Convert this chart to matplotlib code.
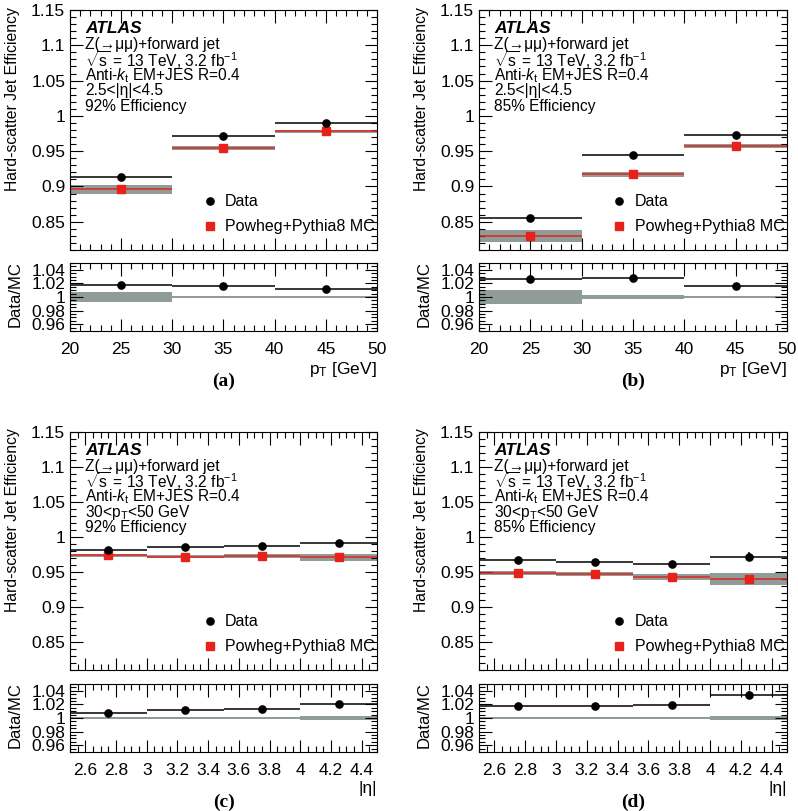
import numpy as np
import matplotlib
matplotlib.use('Agg')
from matplotlib import pyplot as plt
from matplotlib.ticker import MultipleLocator

plt.rcParams['font.family'] = ['Liberation Sans', 'DejaVu Sans']
plt.rcParams['mathtext.fontset'] = 'custom'
plt.rcParams['mathtext.rm'] = 'Liberation Sans'
plt.rcParams['mathtext.it'] = 'Liberation Sans:italic'

# binning
pt_edges = [20, 30, 40, 50]
eta_edges = [2.5, 3.0, 3.5, 4.0, 4.5]

# (a) pT, 92% WP
a_data = [0.913, 0.971, 0.990]
a_data_err = [0.001, 0.001, 0.001]
a_mc = [0.896, 0.955, 0.978]
a_mc_err = [0.006, 0.003, 0.002]
a_ratio = [1.017, 1.016, 1.012]
a_ratio_err = [0.001, 0.001, 0.001]
a_ratio_band = [0.007, 0.002, 0.0015]

# (b) pT, 85% WP
b_data = [0.856, 0.944, 0.973]
b_data_err = [0.001, 0.001, 0.001]
b_mc = [0.830, 0.917, 0.957]
b_mc_err = [0.0085, 0.003, 0.003]
b_ratio = [1.026, 1.028, 1.016]
b_ratio_err = [0.001, 0.001, 0.001]
b_ratio_band = [0.010, 0.003, 0.002]

# (c) |eta|, 92% WP
c_data = [0.982, 0.985, 0.987, 0.991]
c_data_err = [0.001, 0.001, 0.0015, 0.003]
c_mc = [0.974, 0.972, 0.973, 0.971]
c_mc_err = [0.002, 0.002, 0.003, 0.005]
c_ratio = [1.007, 1.012, 1.013, 1.020]
c_ratio_err = [0.001, 0.001, 0.0015, 0.003]
c_ratio_band = [0.002, 0.0015, 0.002, 0.003]

# (d) |eta|, 85% WP
d_data = [0.967, 0.964, 0.962, 0.972]
d_data_err = [0.001, 0.001, 0.003, 0.006]
d_mc = [0.949, 0.947, 0.943, 0.940]
d_mc_err = [0.003, 0.003, 0.004, 0.008]
d_ratio = [1.018, 1.018, 1.0195, 1.034]
d_ratio_err = [0.001, 0.001, 0.003, 0.005]
d_ratio_band = [0.002, 0.001, 0.001, 0.003]

BAND = '#8f9c98'
MS = 5.2

fig = plt.figure(figsize=(7.98, 8.11), dpi=100)
W, H = 798.0, 811.0


def box(l, t, r, b):
    return [l / W, 1 - b / H, (r - l) / W, (b - t) / H]


def style(ax, xmaj, xmin, ymaj, ymin):
    ax.xaxis.set_major_locator(MultipleLocator(xmaj))
    ax.xaxis.set_minor_locator(MultipleLocator(xmin))
    ax.yaxis.set_major_locator(MultipleLocator(ymaj))
    ax.yaxis.set_minor_locator(MultipleLocator(ymin))
    ax.tick_params(which='both', direction='in', top=True, right=True, labelsize=12.5, width=0.8)
    ax.tick_params(which='major', length=9)
    ax.tick_params(which='minor', length=4.5)
    for s in ax.spines.values():
        s.set_linewidth(0.8)


def fmt(v, pos):
    s = ('%.3f' % v).rstrip('0').rstrip('.')
    return s


def panel(left, right, top_main, bot_main, top_r, bot_r, edges, data, derr, mc, mcerr,
          ratio, rerr, rband, var_line, wp, xlabel, tag, eta):
    edges = np.array(edges)
    lo, hi = edges[:-1], edges[1:]
    cen = 0.5 * (lo + hi)
    hw = 0.5 * (hi - lo)
    ax = fig.add_axes(box(left, top_main, right, bot_main))
    for i in range(len(cen)):
        ax.fill_between([lo[i], hi[i]], mc[i] - mcerr[i], mc[i] + mcerr[i], color=BAND, lw=0, zorder=1)
    ax.hlines(mc, lo, hi, color='#e3241b', lw=1.1, zorder=2)
    ax.plot(cen, mc, 's', color='#e8221b', ms=MS, zorder=3)
    ax.errorbar(cen, data, xerr=hw, yerr=derr, fmt='o', color='black', ms=MS, elinewidth=1.1, capsize=0, zorder=4)
    ax.set_xlim(edges[0], edges[-1])
    ax.set_ylim(0.81, 1.15)
    if eta:
        style(ax, 0.2, 0.05, 0.05, 0.01)
    else:
        style(ax, 5, 1, 0.05, 0.01)
    ax.set_xticklabels([])
    ax.yaxis.set_major_formatter(fmt)
    ax.set_ylabel('Hard-scatter Jet Efficiency', fontsize=11.3)
    ax.yaxis.set_label_coords(-0.163, 0.63)

    x0, y0, dy = 0.05, 0.921, 0.0645
    ax.text(x0, y0, 'ATLAS', transform=ax.transAxes, fontsize=12.5, fontweight='bold', fontstyle='italic', va='center')
    lines = ['Z(→μμ)+forward jet',
             r'$\sqrt{\mathregular{s}}$ = 13 TeV, 3.2 fb$^{\mathregular{-1}}$',
             r'Anti-$k_{\mathregular{t}}$ EM+JES R=0.4',
             var_line,
             wp]
    for k, s in enumerate(lines):
        ax.text(x0, y0 - (k + 1) * dy, s, transform=ax.transAxes, fontsize=11.2, va='center')

    # legend by hand
    ax.plot([0.456], [0.204], 'o', color='black', ms=MS, transform=ax.transAxes, clip_on=False)
    ax.text(0.505, 0.204, 'Data', transform=ax.transAxes, fontsize=11.5, va='center')
    ax.plot([0.456], [0.1], 's', color='#e8221b', ms=MS, transform=ax.transAxes, clip_on=False)
    ax.text(0.505, 0.1, 'Powheg+Pythia8 MC', transform=ax.transAxes, fontsize=11.5, va='center')

    rx = fig.add_axes(box(left, top_r, right, bot_r))
    for i in range(len(cen)):
        rx.fill_between([lo[i], hi[i]], 1 - rband[i], 1 + rband[i], color=BAND, lw=0, zorder=1)
    rx.errorbar(cen, ratio, xerr=hw, yerr=rerr, fmt='o', color='black', ms=MS, elinewidth=1.1, capsize=0, zorder=4)
    rx.set_xlim(edges[0], edges[-1])
    rx.set_ylim(0.95, 1.05)
    if eta:
        style(rx, 0.2, 0.05, 0.02, 0.005)
    else:
        style(rx, 5, 1, 0.02, 0.005)
    rx.yaxis.set_major_formatter(fmt)
    rx.xaxis.set_major_formatter(fmt)
    rx.set_yticks([0.96, 0.98, 1.0, 1.02, 1.04])
    rx.set_ylabel('Data/MC', fontsize=12)
    rx.yaxis.set_label_coords(-0.153, 0.55)
    rx.tick_params(axis='x', pad=8)
    if eta:
        rx.set_xticks([2.6, 2.8, 3.0, 3.2, 3.4, 3.6, 3.8, 4.0, 4.2, 4.4])
    rx.set_xlabel(xlabel, fontsize=12.5, loc='right', labelpad=2)
    rx.text(0.5, -0.74, tag, transform=rx.transAxes, ha='center', va='center',
            fontsize=14, fontweight='bold', family=['Liberation Serif', 'DejaVu Serif'])
    return ax, rx


pt_lab = r'p$_{\mathregular{T}}$ [GeV]'
panel(70, 377, 10, 250, 263, 331, pt_edges, a_data, a_data_err, a_mc, a_mc_err,
      a_ratio, a_ratio_err, a_ratio_band, '2.5<|η|<4.5', '92% Efficiency', pt_lab, '(a)', False)
panel(479, 787, 10, 250, 263, 331, pt_edges, b_data, b_data_err, b_mc, b_mc_err,
      b_ratio, b_ratio_err, b_ratio_band, '2.5<|η|<4.5', '85% Efficiency', pt_lab, '(b)', False)
panel(70, 377, 432, 670, 684, 752, eta_edges, c_data, c_data_err, c_mc, c_mc_err,
      c_ratio, c_ratio_err, c_ratio_band, r'30<p$_{\mathregular{T}}$<50 GeV', '92% Efficiency', '|η|', '(c)', True)
panel(479, 787, 432, 670, 684, 752, eta_edges, d_data, d_data_err, d_mc, d_mc_err,
      d_ratio, d_ratio_err, d_ratio_band, r'30<p$_{\mathregular{T}}$<50 GeV', '85% Efficiency', '|η|', '(d)', True)

fig.savefig('out.png', dpi=100)
